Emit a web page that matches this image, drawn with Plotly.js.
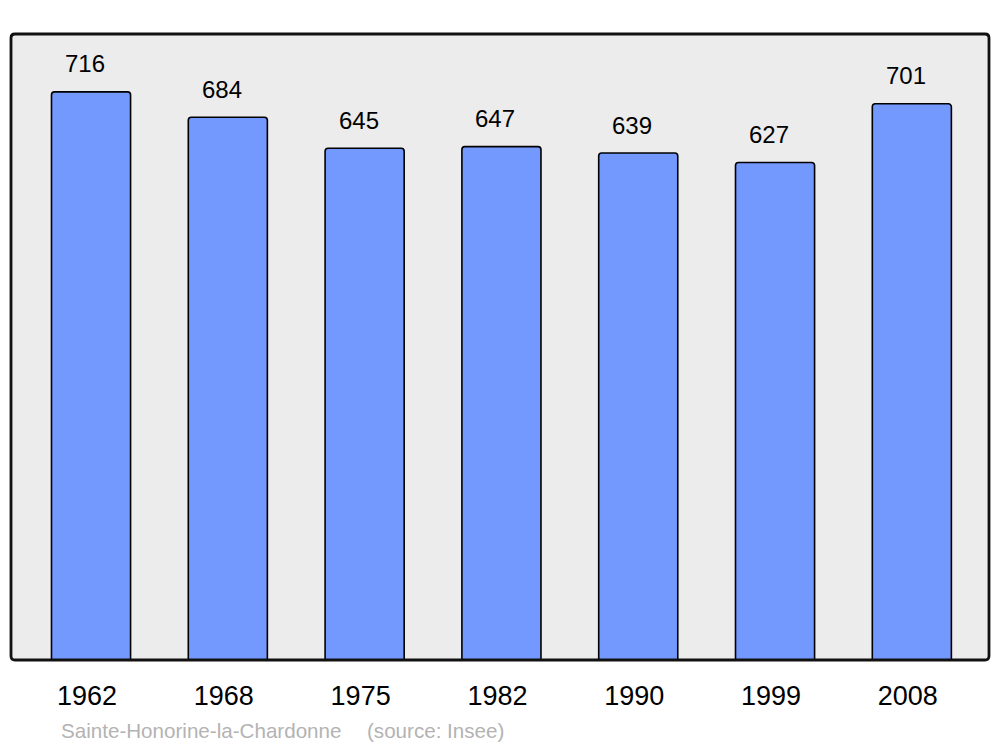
<!DOCTYPE html>
<html><head><meta charset="utf-8">
<script src="https://cdn.plot.ly/plotly-3.0.1.min.js"></script>
<style>html,body{margin:0;padding:0;background:#fff}#chart{width:1000px;height:747px}</style>
</head><body><div id="chart"></div>
<script>
var years = ["1962","1968","1975","1982","1990","1999","2008"];
var population = [716, 684, 645, 647, 639, 627, 701];
var commune = "Sainte-Honorine-la-Chardonne";
var sourceText = "(source: Insee)";

var idx = years.map(function(_, i){ return i; });

var trace = {
  type: 'bar',
  x: idx,
  y: population,
  width: 0.578,
  marker: {color: '#7399ff', line: {color: '#000', width: 1.6}, cornerradius: 3},
  hoverinfo: 'none'
};

var annotations = population.map(function(v, i){
  return {x: i, y: v, xref: 'x', yref: 'y', text: String(v), showarrow: false,
    yshift: 28, xshift: -6, yanchor: 'middle', xanchor: 'center',
    font: {family: 'Liberation Sans, Arial, sans-serif', size: 24, color: '#000'}};
});
annotations.push({xref: 'paper', yref: 'paper', x: (59-11)/978, y: -(730-660)/626, xanchor: 'left', yanchor: 'middle',
  text: commune, showarrow: false, font: {family: 'Liberation Sans, Arial, sans-serif', size: 20.6, color: '#b3b3b3'}});
annotations.push({xref: 'paper', yref: 'paper', x: (365-11)/978, y: -(730-660)/626, xanchor: 'left', yanchor: 'middle',
  text: sourceText, showarrow: false, font: {family: 'Liberation Sans, Arial, sans-serif', size: 20.6, color: '#b3b3b3'}});

// rounded frame in paper coordinates
var rx = 4/978, ry = 4/626;
var framePath = 'M ' + rx + ' 0 L ' + (1-rx) + ' 0 Q 1 0 1 ' + ry + ' L 1 ' + (1-ry) + ' Q 1 1 ' + (1-rx) + ' 1 L ' + rx + ' 1 Q 0 1 0 ' + (1-ry) + ' L 0 ' + ry + ' Q 0 0 ' + rx + ' 0 Z';

var layout = {
  width: 1000, height: 747,
  margin: {l: 11, r: 11, t: 34, b: 87, pad: 0},
  paper_bgcolor: '#ffffff',
  plot_bgcolor: 'rgba(0,0,0,0)',
  showlegend: false,
  xaxis: {range: [-0.585, 6.564], tickvals: idx, ticktext: years, showgrid: false, zeroline: false,
    showline: false, ticks: 'outside', ticklen: 12, tickcolor: 'rgba(0,0,0,0)', ticklabelshift: -4,
    tickfont: {family: 'Liberation Sans, Arial, sans-serif', size: 27, color: '#000'}, fixedrange: true},
  yaxis: {range: [0, 789], showgrid: false, zeroline: false, showticklabels: false, showline: false, fixedrange: true},
  shapes: [
    {type: 'path', xref: 'paper', yref: 'paper', path: framePath, fillcolor: '#ececec', line: {width: 0}, layer: 'below'},
    {type: 'path', xref: 'paper', yref: 'paper', path: framePath, fillcolor: 'rgba(0,0,0,0)', line: {color: '#111', width: 2.8}, layer: 'above'}
  ],
  annotations: annotations
};

Plotly.newPlot('chart', [trace], layout, {displayModeBar: false, staticPlot: true});
</script></body></html>
